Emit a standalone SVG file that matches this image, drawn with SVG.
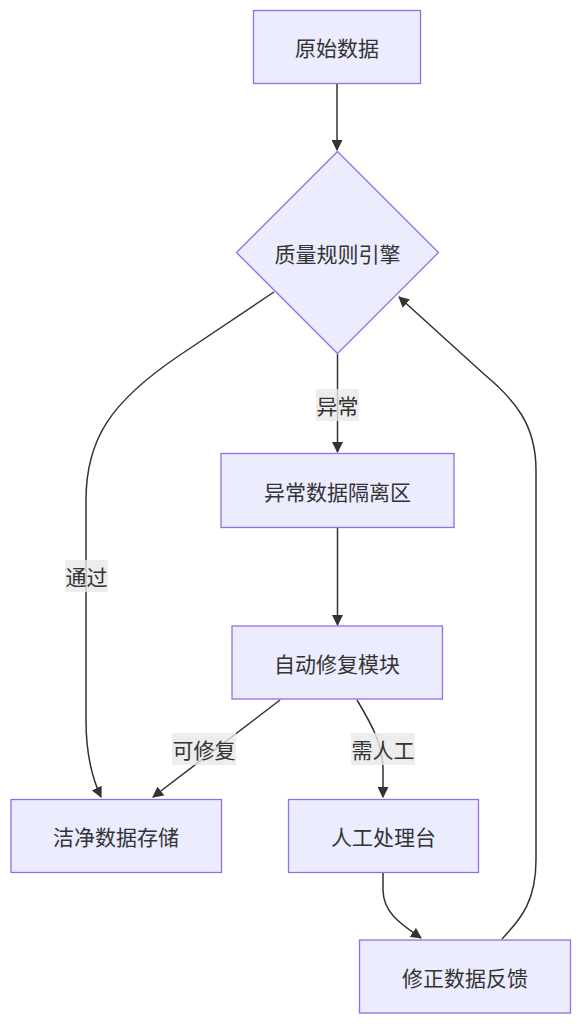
<svg xmlns="http://www.w3.org/2000/svg" width="581" height="1024" viewBox="0 0 581 1024">
<style>
.node rect,.node polygon{fill:#ECECFF;stroke:#9370DB;stroke-width:1.3px}
.node text{font-family:"Noto Sans CJK SC","Liberation Sans",sans-serif;font-size:21px;fill:#333;text-anchor:middle;dominant-baseline:central}
.edge{fill:none;stroke:#333;stroke-width:1.5px}
.lbl rect{fill:#e8e8e8;fill-opacity:0.8}
.lbl text{font-family:"Noto Sans CJK SC","Liberation Sans",sans-serif;font-size:21px;fill:#333;text-anchor:middle;dominant-baseline:central}
</style>
<defs>
<marker id="arr" viewBox="0 0 10 10" refX="9" refY="5" markerWidth="11" markerHeight="11" markerUnits="userSpaceOnUse" orient="auto">
<path d="M0,0 L10,5 L0,10 z" fill="#333"/>
</marker>
</defs>
<rect width="581" height="1024" fill="#fff"/>
<g id="connectors">
<path class="edge" d="M337,83.5 L337,150" marker-end="url(#arr)"/>
<path class="edge" d="M274,292 L180,355 C110,402 86,440 86,500 L86,720 C86,755 92,778 101,797" marker-end="url(#arr)"/>
<path class="edge" d="M337.5,354 L337.5,452" marker-end="url(#arr)"/>
<path class="edge" d="M337.5,527.5 L337.5,625" marker-end="url(#arr)"/>
<path class="edge" d="M280,700 L153,797" marker-end="url(#arr)"/>
<path class="edge" d="M357,700 C372,725 383,745 383,770 L383,797" marker-end="url(#arr)"/>
<path class="edge" d="M383,873 L383,890 C383,913 402,925 421,938" marker-end="url(#arr)"/>
<path class="edge" d="M502,939 C522,918 536,900 536,860 L536,470 C536,425 515,400 485,375 L399,297" marker-end="url(#arr)"/>
<g class="lbl"><rect x="65" y="560" width="43" height="32"/><text x="86.5" y="576">通过</text></g>
<g class="lbl"><rect x="316" y="389" width="43" height="32"/><text x="337.5" y="405">异常</text></g>
<g class="lbl"><rect x="172" y="733" width="64" height="32"/><text x="204" y="749">可修复</text></g>
<g class="lbl"><rect x="351" y="733" width="64" height="32"/><text x="383" y="749">需人工</text></g>
</g>
<g id="n1" class="node"><rect x="253.5" y="10.5" width="167" height="73"/><text x="337" y="47">原始数据</text></g>
<g id="n2" class="node"><polygon points="337.5,151.5 438.5,252.5 337.5,353.5 236.5,252.5"/><text x="337.5" y="252.5">质量规则引擎</text></g>
<g id="n3" class="node"><rect x="221" y="453.5" width="233" height="74"/><text x="337.5" y="490.5">异常数据隔离区</text></g>
<g id="n4" class="node"><rect x="232" y="626" width="210.5" height="73"/><text x="337" y="662.5">自动修复模块</text></g>
<g id="n5" class="node"><rect x="11" y="799.5" width="210.5" height="73"/><text x="116" y="836">洁净数据存储</text></g>
<g id="n6" class="node"><rect x="288.5" y="799.5" width="190" height="73"/><text x="383.5" y="836">人工处理台</text></g>
<g id="n7" class="node"><rect x="359.5" y="940" width="211" height="73"/><text x="465" y="976.5">修正数据反馈</text></g>
</svg>
